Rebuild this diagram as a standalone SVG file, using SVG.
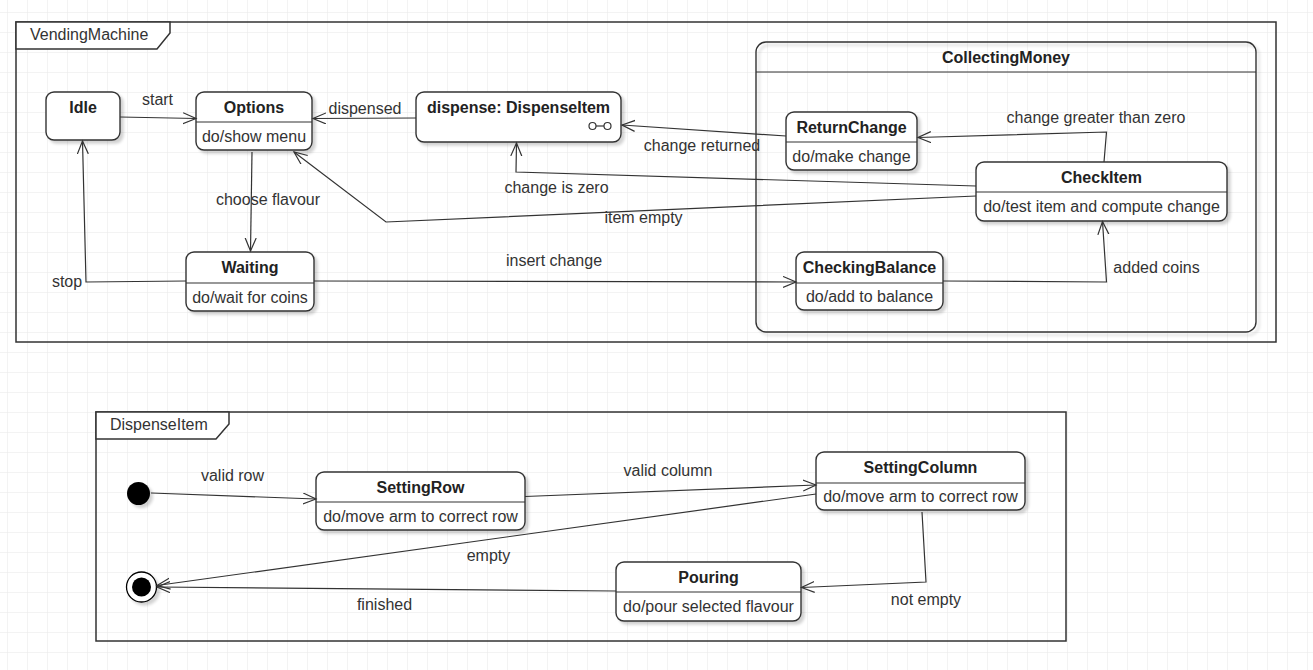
<svg xmlns="http://www.w3.org/2000/svg" width="1313" height="670" viewBox="0 0 1313 670">
<defs>
<pattern id="grid" width="20" height="20" patternUnits="userSpaceOnUse" x="7" y="12">
<path d="M20,0 L0,0 L0,20" fill="none" stroke="#e8e8e8" stroke-width="1"/>
</pattern>
<filter id="sh" x="-10%" y="-10%" width="130%" height="140%">
<feGaussianBlur in="SourceAlpha" stdDeviation="1.5"/>
<feOffset dx="3" dy="3" result="o"/>
<feComponentTransfer><feFuncA type="linear" slope="0.18"/></feComponentTransfer>
<feMerge><feMergeNode/><feMergeNode in="SourceGraphic"/></feMerge>
</filter>
<marker id="arr" markerUnits="userSpaceOnUse" markerWidth="16" markerHeight="14" refX="13" refY="6" orient="auto">
<path d="M0,0.5 L13,6 L0,11.5" fill="none" stroke="#333" stroke-width="1.2"/>
</marker>
<style>
.frame{fill:none;stroke:#333;stroke-width:1.5}
.tab{fill:#fff;stroke:#333;stroke-width:1.5}
.box{fill:#fff;stroke:#333;stroke-width:1.4}
.div{stroke:#333;stroke-width:1.2}
.t{font-family:"Liberation Sans",Arial,sans-serif;font-size:16px;fill:#333}
.b{font-family:"Liberation Sans",Arial,sans-serif;font-size:16px;font-weight:bold;fill:#222;text-anchor:middle}
.m{text-anchor:middle}
.e{fill:none;stroke:#333;stroke-width:1.2;marker-end:url(#arr)}
</style>
</defs>
<rect width="1313" height="670" fill="#fff"/>
<rect width="1313" height="670" fill="url(#grid)"/>

<g id="frame-vending">
<rect class="frame" x="16" y="22" width="1260" height="320"/>
<path class="tab" d="M16,22 L170,22 L170,33 L157,49 L16,49 Z"/>
<text class="t" x="30" y="40">VendingMachine</text>
</g>

<g id="frame-dispense">
<rect class="frame" x="96" y="412" width="970" height="229"/>
<path class="tab" d="M96,412 L229,412 L229,424 L216,439 L96,439 Z"/>
<text class="t" x="110" y="430">DispenseItem</text>
</g>

<g id="CollectingMoney">
<rect x="756" y="42" width="500" height="290" rx="10" fill="none" stroke="#333" stroke-width="1.4" filter="url(#sh)"/>
<line class="div" x1="756" y1="72" x2="1256" y2="72"/>
<text class="b" x="1006" y="62.5">CollectingMoney</text>
</g>

<g id="Idle">
<rect class="box" x="46" y="92" width="74" height="48" rx="8" filter="url(#sh)"/>
<text class="b" x="83" y="112.5">Idle</text>
</g>

<g id="Options">
<rect class="box" x="196" y="92" width="116" height="58" rx="8" filter="url(#sh)"/>
<line class="div" x1="196" y1="122" x2="312" y2="122"/>
<text class="b" x="254" y="112.5">Options</text>
<text class="t m" x="254" y="141.5">do/show menu</text>
</g>

<g id="Waiting">
<rect class="box" x="186" y="252" width="128" height="59" rx="8" filter="url(#sh)"/>
<line class="div" x1="186" y1="283" x2="314" y2="283"/>
<text class="b" x="250" y="272.5">Waiting</text>
<text class="t m" x="250" y="302.5">do/wait for coins</text>
</g>

<g id="dispense">
<rect class="box" x="416" y="92" width="205" height="50" rx="8" filter="url(#sh)"/>
<text class="b" x="518.5" y="112.5">dispense: DispenseItem</text>
<circle cx="592.5" cy="126" r="3.5" fill="none" stroke="#333" stroke-width="1.2"/>
<circle cx="607.5" cy="126" r="3.5" fill="none" stroke="#333" stroke-width="1.2"/>
<line x1="596" y1="126" x2="604" y2="126" stroke="#333" stroke-width="1.2"/>
</g>

<g id="ReturnChange">
<rect class="box" x="786" y="112" width="131" height="58" rx="8" filter="url(#sh)"/>
<line class="div" x1="786" y1="142" x2="917" y2="142"/>
<text class="b" x="851.5" y="132.5">ReturnChange</text>
<text class="t m" x="851.5" y="161.5">do/make change</text>
</g>

<g id="CheckItem">
<rect class="box" x="976" y="162" width="251" height="59" rx="8" filter="url(#sh)"/>
<line class="div" x1="976" y1="192" x2="1227" y2="192"/>
<text class="b" x="1101.5" y="182.5">CheckItem</text>
<text class="t m" x="1101.5" y="212">do/test item and compute change</text>
</g>

<g id="CheckingBalance">
<rect class="box" x="796" y="252" width="147" height="58" rx="8" filter="url(#sh)"/>
<line class="div" x1="796" y1="283" x2="943" y2="283"/>
<text class="b" x="869.5" y="273">CheckingBalance</text>
<text class="t m" x="869.5" y="302">do/add to balance</text>
</g>

<g id="initial">
<circle cx="138.5" cy="493.5" r="11.5" fill="#000" filter="url(#sh)"/>
</g>

<g id="final">
<circle cx="141.5" cy="587" r="15" fill="#fff" stroke="#000" stroke-width="1.3" filter="url(#sh)"/>
<circle cx="141.5" cy="587" r="9.5" fill="#000"/>
</g>

<g id="SettingRow">
<rect class="box" x="316" y="472" width="209" height="58" rx="8" filter="url(#sh)"/>
<line class="div" x1="316" y1="502" x2="525" y2="502"/>
<text class="b" x="420.5" y="492.5">SettingRow</text>
<text class="t m" x="420.5" y="521.5">do/move arm to correct row</text>
</g>

<g id="SettingColumn">
<rect class="box" x="816" y="452" width="209" height="58" rx="8" filter="url(#sh)"/>
<line class="div" x1="816" y1="483" x2="1025" y2="483"/>
<text class="b" x="920.5" y="473">SettingColumn</text>
<text class="t m" x="920.5" y="502">do/move arm to correct row</text>
</g>

<g id="Pouring">
<rect class="box" x="616" y="562" width="185" height="59" rx="8" filter="url(#sh)"/>
<line class="div" x1="616" y1="592" x2="801" y2="592"/>
<text class="b" x="708.5" y="582.5">Pouring</text>
<text class="t m" x="708.5" y="612">do/pour selected flavour</text>
</g>

<g id="connectors">
<path class="e" d="M120,117 L196,118.5"/>
<path class="e" d="M416,118 L313,118.5"/>
<path class="e" d="M252,152 L250.5,251"/>
<path class="e" d="M186,281 L86,282 L82.5,141"/>
<path class="e" d="M314,281 L796,282"/>
<path class="e" d="M976,196 L386,222 L294,152"/>
<path class="e" d="M976,186 L516,172 L516.5,143"/>
<path class="e" d="M786,136 L622,125"/>
<path class="e" d="M1104,162 L1106.5,132 L918,137.5"/>
<path class="e" d="M943,281 L1106.5,282 L1102.5,221.5"/>
<path class="e" d="M151,493 L316,499"/>
<path class="e" d="M525,496.5 L816,485"/>
<path class="e" d="M816,494 L157,585.5"/>
<path class="e" d="M922,512 L926,582 L801.5,587.5"/>
<path class="e" d="M616,591 L157,587"/>
</g>

<g id="labels">
<text class="t m" x="157.5" y="104.5">start</text>
<text class="t m" x="365" y="113.5">dispensed</text>
<text class="t m" x="268" y="204.5">choose flavour</text>
<text class="t m" x="67" y="286.5">stop</text>
<text class="t m" x="554" y="266">insert change</text>
<text class="t m" x="643.5" y="223">item empty</text>
<text class="t m" x="556.5" y="192.5">change is zero</text>
<text class="t m" x="702" y="151">change returned</text>
<text class="t m" x="1096" y="123">change greater than zero</text>
<text class="t m" x="1156.5" y="273">added coins</text>
<text class="t m" x="232.5" y="481">valid row</text>
<text class="t m" x="668" y="476">valid column</text>
<text class="t m" x="488.5" y="561">empty</text>
<text class="t m" x="926" y="604.5">not empty</text>
<text class="t m" x="384.5" y="609.5">finished</text>
</g>
</svg>
